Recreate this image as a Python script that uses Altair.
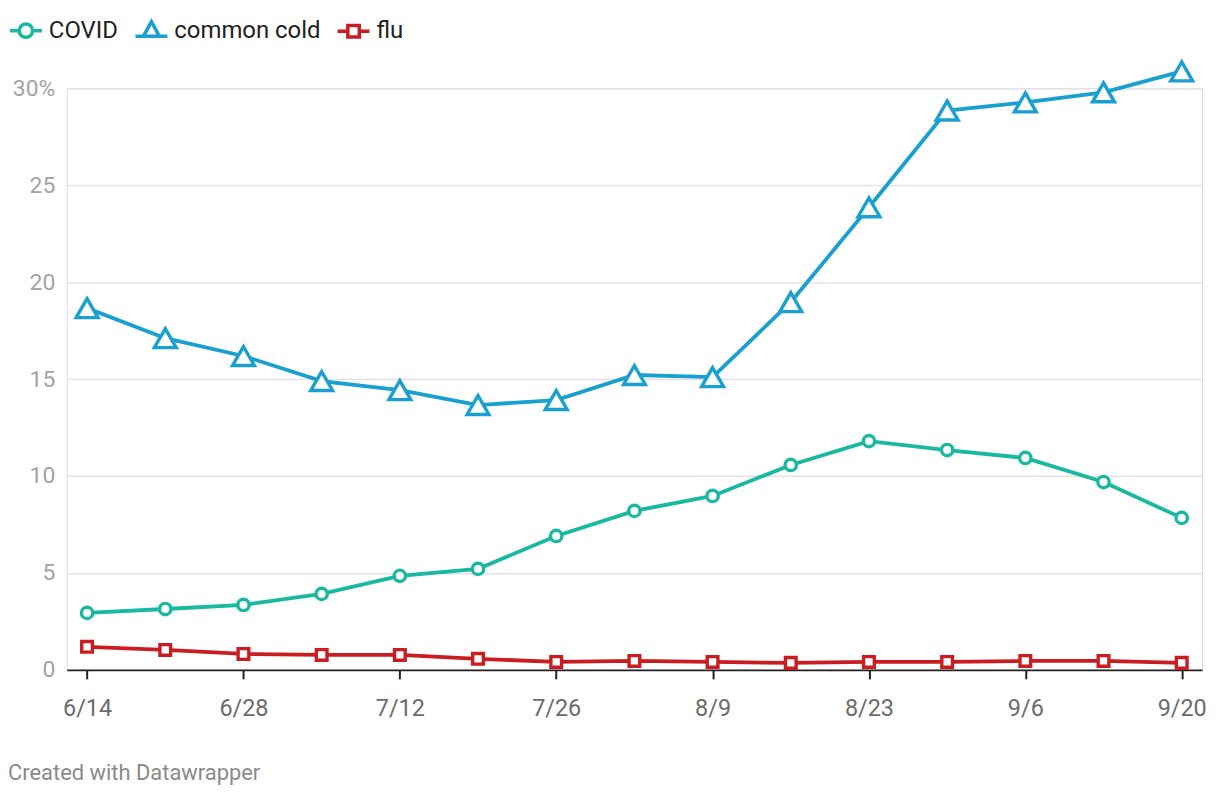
import altair as alt
import pandas as pd

weeks = ["6/14", "6/21", "6/28", "7/5", "7/12", "7/19", "7/26", "8/2",
         "8/9", "8/16", "8/23", "8/30", "9/6", "9/13", "9/20"]
tick_weeks = ["6/14", "6/28", "7/12", "7/26", "8/9", "8/23", "9/6", "9/20"]
series = ["COVID", "common cold", "flu"]
covid = [2.94, 3.14, 3.35, 3.92, 4.85, 5.21, 6.91, 8.20, 8.97, 10.57, 11.80, 11.34, 10.93, 9.69, 7.84]
cold = [18.66, 17.11, 16.19, 14.90, 14.43, 13.66, 13.92, 15.21, 15.10, 18.97, 23.86, 28.85, 29.27, 29.79, 30.87]
flu = [1.19, 1.03, 0.82, 0.77, 0.77, 0.57, 0.41, 0.46, 0.41, 0.36, 0.41, 0.41, 0.46, 0.46, 0.36]
colors = ["#18b9a0", "#1a9fd1", "#c91d21"]
marker_shapes = ["circle", "triangle-up", "square"]
legend_paths = [
    "M-1,0H-0.42M0.42,0H1M-0.42,0A0.42,0.42,0,1,1,0.42,0A0.42,0.42,0,1,1,-0.42,0Z",
    "M-1,0.3H-0.5M0.5,0.3H1M0,-0.62L0.5,0.3L-0.5,0.3Z",
    "M-1,0H-0.36M0.36,0H1M-0.36,-0.36H0.36V0.36H-0.36Z",
]

rows = []
for name, vals in zip(series, [covid, cold, flu]):
    for w, v in zip(weeks, vals):
        rows.append({"week": w, "value": v, "series": name})
df = pd.DataFrame(rows)

x = alt.X("week:O", sort=weeks,
          scale=alt.Scale(type="point", padding=0.26),
          axis=alt.Axis(values=tick_weeks, title=None, labelAngle=0,
                        labelFontSize=23.5, labelColor="#6b6b6b", labelFont="Roboto",
                        domainColor="#222222", domainWidth=2,
                        tickColor="#222222", tickWidth=2, tickSize=9,
                        labelPadding=18, grid=False))
y = alt.Y("value:Q",
          scale=alt.Scale(domain=[0, 30], nice=False),
          axis=alt.Axis(values=[0, 5, 10, 15, 20, 25, 30], title=None,
                        labelExpr="datum.value == 30 ? '30%' : datum.label",
                        labelFontSize=23, labelColor="#a3a3a3", labelFont="Roboto",
                        labelPadding=12, domain=False, ticks=False,
                        gridColor="#e3e3e3", gridWidth=1.5))

base = alt.Chart(df)

layers = []
for name, c in zip(series, colors):
    layers.append(
        base.transform_filter(alt.datum.series == name)
        .mark_line(strokeWidth=3.8, color=c)
        .encode(x=x, y=y)
    )
for name, c, shp, sz in zip(series, colors, marker_shapes, [130, 480, 115]):
    layers.append(
        base.transform_filter(alt.datum.series == name)
        .mark_point(shape=shp, filled=True, fill="white", stroke=c, strokeWidth=3.4, size=sz, opacity=1)
        .encode(x=x, y=y)
    )

leg = alt.Legend(title=None, orient="none", legendX=-59, legendY=-76,
                 direction="horizontal", symbolSize=1024, symbolOpacity=1,
                 symbolStrokeWidth=3.5, symbolFillColor="transparent", labelFontSize=24,
                 labelColor="#222222", labelFont="Roboto",
                 columnPadding=10, labelOffset=5)

legend_layer = base.transform_filter("false").mark_point(filled=False, strokeWidth=3.5, size=1024).encode(
    x=x, y=y,
    color=alt.Color("series:N", scale=alt.Scale(domain=series, range=colors), legend=leg),
    shape=alt.Shape("series:N", scale=alt.Scale(domain=series, range=legend_paths), legend=leg),
)

chart = alt.layer(*layers, legend_layer).properties(
    width=1140, height=584,
    padding={"left": 0, "top": 3, "right": 5, "bottom": 5},
    title=alt.TitleParams("Created with Datawrapper", orient="bottom", anchor="start",
                          frame="bounds", fontSize=22, color="#8a8a8a",
                          fontWeight="normal", font="Roboto", offset=43),
).configure_view(stroke=None).configure(font="Roboto")

chart.save("out.html", embed_options={"renderer": "svg", "actions": False})
